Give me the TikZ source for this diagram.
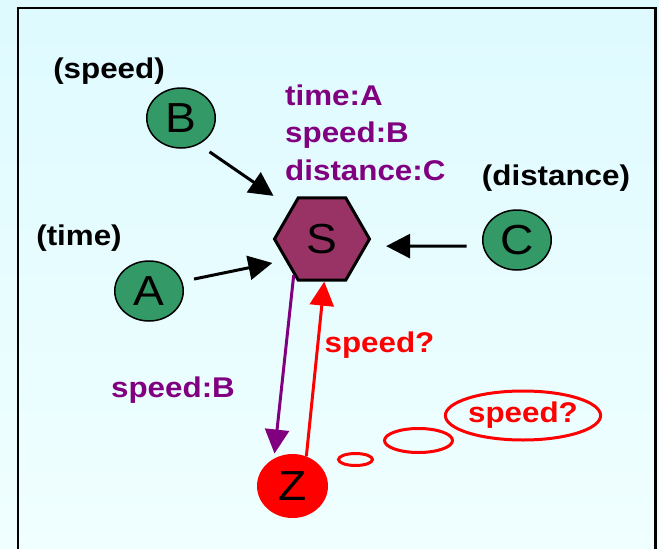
\documentclass[tikz,border=0pt]{standalone}
\usepackage{fontspec}
\setmainfont{Liberation Sans}[FakeStretch=1.1]
\usetikzlibrary{shapes.geometric,arrows.meta}
\definecolor{nodegreen}{RGB}{51,153,102}
\definecolor{hexplum}{RGB}{153,51,102}
\definecolor{tagpurple}{RGB}{128,0,128}
\tikzstyle{source}=[ellipse,draw=black,line width=1.5pt,fill=nodegreen,minimum width=68.5pt,minimum height=60pt,inner sep=0pt,font=\fontsize{42}{42}\selectfont]
\tikzstyle{server}=[regular polygon,regular polygon sides=6,draw=black,line width=3pt,fill=hexplum,minimum size=95pt,inner sep=0pt,font=\fontsize{42}{42}\selectfont]
\tikzstyle{client}=[ellipse,fill=red,minimum width=71pt,minimum height=64pt,inner sep=0pt,font=\fontsize{42}{42}\selectfont]
\tikzstyle{bubble}=[ellipse,draw=red,line width=3pt,inner sep=0pt]
\tikzstyle{tag}=[font=\bfseries\fontsize{28.5}{28.5}\selectfont,inner sep=0pt]
\tikzstyle{arr}=[line width=3pt,-{Triangle[length=24pt,width=24pt]}]

\begin{document}
\begin{tikzpicture}[x=1pt,y=-1pt]
  \shade[top color={rgb,255:red,222;green,250;blue,255},bottom color={rgb,255:red,240;green,255;blue,255}]
    (0,0) rectangle (659,549);
  \useasboundingbox (0,0) rectangle (659,549);
  \draw[line width=2.5pt] (18,549) -- (18,8) -- (655.5,8) -- (655.5,549);

  % sources and server
  \foreach \name/\pos in {A/{149,291}, B/{181,118}, C/{517,240}}
    \node[source] (\name) at (\pos) {\name};
  \node[server] (S) at (322,239) {S};
  \node[client] (Z) at (292.5,486) {Z};

  \node[tag] (speed-lbl) at (109,71) {(speed)};
  \node[tag] (time-lbl) at (79,238) {(time)};
  \node[tag] (dist-lbl) at (556,178) {(distance)};
  \foreach \name/\y/\text in {tag-1/105/time:A, tag-2/142.5/speed:B, tag-3/180/distance:C}
    \node[tag,text=tagpurple,anchor=base west] (\name) at (285,\y) {\text};

  \foreach \from/\a/\b/\s/\e in {B/-56/135/13/21, A/16/210/12/13, C/190/-9/16/19}
    \draw[arr,shorten <=\s pt,shorten >=\e pt] (\from.\a) -- (S.\b);

  % request and reply
  \draw[arr,draw=tagpurple,fill=tagpurple,shorten >=5pt] (S.232) -- (Z.124);
  \draw[arr,draw=red,fill=red] (Z.65) -- (S.-87);
  \node[tag,text=tagpurple,anchor=base] (reply) at (173,397) {speed:B};
  \node[tag,text=red,anchor=base] (ask) at (379.5,352) {speed?};

  % thought bubbles
  \node[bubble,minimum width=34pt,minimum height=12pt] (b1) at (355.5,459.5) {};
  \node[bubble,minimum width=68pt,minimum height=24pt] (b2) at (418.5,440.5) {};
  \node[bubble,minimum width=137pt,minimum height=49pt,font=\bfseries\fontsize{28.5}{28.5}\selectfont,text=red] (b3) at (523,415.5) {speed?};
\end{tikzpicture}
\end{document}
